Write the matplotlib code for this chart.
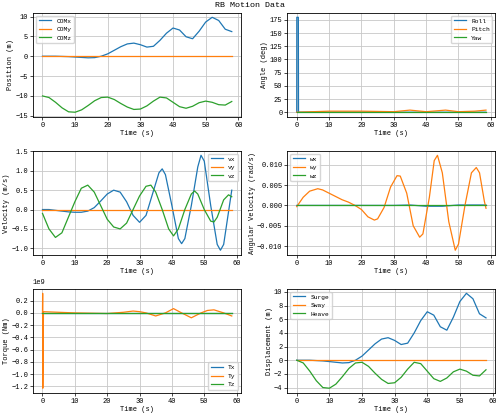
import matplotlib
matplotlib.use("Agg")
import matplotlib.pyplot as plt
import numpy as np

plt.rcParams['font.family'] = ['Liberation Mono', 'DejaVu Sans Mono']
plt.rcParams['font.size'] = 5

# Displacement / position
surge_t = [0,2,4,6,8,10,12,14,16,18,20,22,24,26,28,30,32,34,36,38,40,42,44,46,48,50,52,54,56,58]
surge = [0,0,0,-0.05,-0.1,-0.2,-0.3,-0.4,-0.35,0,0.6,1.5,2.4,3.1,3.3,2.9,2.3,2.5,4.0,5.8,7.1,6.6,4.9,4.4,6.3,8.6,9.8,9.0,6.8,6.2]
heave = [0,-0.4,-1.6,-3.0,-4.0,-4.1,-3.5,-2.4,-1.2,-0.4,-0.3,-0.9,-1.9,-2.8,-3.4,-3.3,-2.5,-1.3,-0.3,-0.5,-1.6,-2.7,-3.1,-2.6,-1.7,-1.3,-1.6,-2.2,-2.3,-1.4]
sway = [0]*len(surge_t)
comz0 = -10

# Angles
roll_t = [0,0.02,0.5,0.55,58.5]
roll = [0,180,180,0,0]
pitch_t = [0,10,20,30,35,40,46,50,55,58.5]
pitch = [0,2,2,1,4,1,4,1,2,4]
yaw_t = [0,58.5]
yaw = [0,0]

# Velocity
vx_t = [0,2,4,6,8,10,12,14,16,18,20,22,24,26,28,30,32,34,36,37,38,40,42,43,44,46,48,49,50,52,54,55,56,58.5]
vx = [0,0,-0.02,-0.04,-0.06,-0.07,-0.07,-0.04,0.05,0.22,0.4,0.5,0.45,0.2,-0.15,-0.33,-0.15,0.4,0.95,1.05,0.9,0.1,-0.75,-0.88,-0.75,0.1,1.1,1.4,1.25,0.1,-0.9,-1.05,-0.9,0.5]
vz_t = [0,2,4,6,8,10,12,14,16,18,20,22,24,26,28,30,32,33.5,35,37,39,40.5,42,44,46,47,48,50,52,53,54,56,57.5,58.5]
vz = [-0.1,-0.5,-0.72,-0.6,-0.2,0.2,0.55,0.63,0.45,0.1,-0.25,-0.45,-0.5,-0.35,0.0,0.35,0.6,0.63,0.45,0.0,-0.5,-0.68,-0.5,0.0,0.4,0.48,0.4,0.0,-0.3,-0.32,-0.2,0.25,0.38,0.33]

# Angular velocity
wy_t = [0,2,4,6.5,8,10,12,14,16,18,20,22,24,25,27,29,31,32,34,36,38,39,41,42.5,43.5,45,47,49,50,52,54,55.5,56.5,58,58.5]
wy = [-0.0003,0.002,0.0035,0.0041,0.0038,0.003,0.0022,0.0014,0.0008,0.0,-0.001,-0.0028,-0.0036,-0.0033,-0.0005,0.0045,0.0073,0.0072,0.003,-0.005,-0.0078,-0.007,0.002,0.011,0.0123,0.008,-0.004,-0.011,-0.0095,0.0,0.008,0.0093,0.008,0.001,-0.0007]
wx_t = [0,30,35,40,45,50,58.5]
wx = [0,0,0.0001,-0.0002,-0.0002,0.0001,0.0001]

# Torque (x1e9)
ty_t = [0,0.05,0.1,0.3,5,10,15,20,25,28,30,32,35,38,40.5,43,46,49,51,53,56,58.5]
ty = [0,0.32,-1.23,0.02,0.01,0,-0.005,-0.01,0.01,0.03,0.02,0,-0.05,0,0.07,0,-0.08,0,0.04,0.05,0,-0.05]

fig, axes = plt.subplots(3, 2, figsize=(5, 4.16), dpi=100)
fig.suptitle("RB Motion Data", fontsize=6, y=0.995)

def style(ax, ylabel):
    ax.grid(True, color='#c8c8c8', linewidth=0.6)
    ax.set_xlabel("Time (s)", labelpad=1)
    ax.set_ylabel(ylabel, labelpad=1)
    ax.tick_params(length=2, pad=1.5, width=0.5)
    for s in ax.spines.values():
        s.set_linewidth(0.6)
    ax.set_xticks([0,10,20,30,40,50,60])

lw = 0.9
ax = axes[0,0]
ax.plot(surge_t, surge, label="COMx", lw=lw)
ax.plot(surge_t, sway, label="COMy", lw=lw)
ax.plot(surge_t, [h + comz0 for h in heave], label="COMz", lw=lw)
style(ax, "Position (m)"); ax.legend(loc='upper left', fontsize=4.5)

ax = axes[0,1]
ax.plot(roll_t, roll, label="Roll", lw=lw)
ax.plot(pitch_t, pitch, label="Pitch", lw=lw)
ax.plot(yaw_t, yaw, label="Yaw", lw=lw)
style(ax, "Angle (deg)"); ax.set_yticks(range(0,176,25)); ax.legend(loc='upper right', fontsize=4.5)

ax = axes[1,0]
ax.plot(vx_t, vx, label="vx", lw=lw)
ax.plot([0,58.5], [0,0], label="vy", lw=lw)
ax.plot(vz_t, vz, label="vz", lw=lw)
style(ax, "Velocity (m/s)"); ax.legend(loc='upper right', fontsize=4.5)

ax = axes[1,1]
ax.plot(wx_t, wx, label="wx", lw=lw)
ax.plot(wy_t, wy, label="wy", lw=lw)
ax.plot([0,58.5], [0,0], label="wz", lw=lw)
style(ax, "Angular Velocity (rad/s)"); ax.legend(loc='upper left', fontsize=4.5)

ax = axes[2,0]
ax.plot([0,58.5], [0,0], label="Tx", lw=lw)
ax.plot(ty_t, [v*1e9 for v in ty], label="Ty", lw=lw)
ax.plot([0,58.5], [0,0], label="Tz", lw=lw)
style(ax, "Torque (Nm)"); ax.legend(loc='lower right', fontsize=4.5)
ax.set_yticks(np.arange(-1.2e9, 0.21e9, 0.2e9))
ax.yaxis.get_offset_text().set_fontsize(5)

ax = axes[2,1]
ax.plot(surge_t, surge, label="Surge", lw=lw)
ax.plot(surge_t, sway, label="Sway", lw=lw)
ax.plot(surge_t, heave, label="Heave", lw=lw)
style(ax, "Displacement (m)"); ax.set_yticks(range(-4, 11, 2)); ax.legend(loc='upper left', fontsize=4.5)

fig.tight_layout(pad=0.4, h_pad=0.6, w_pad=1.0)
fig.savefig("out.png", dpi=100)
